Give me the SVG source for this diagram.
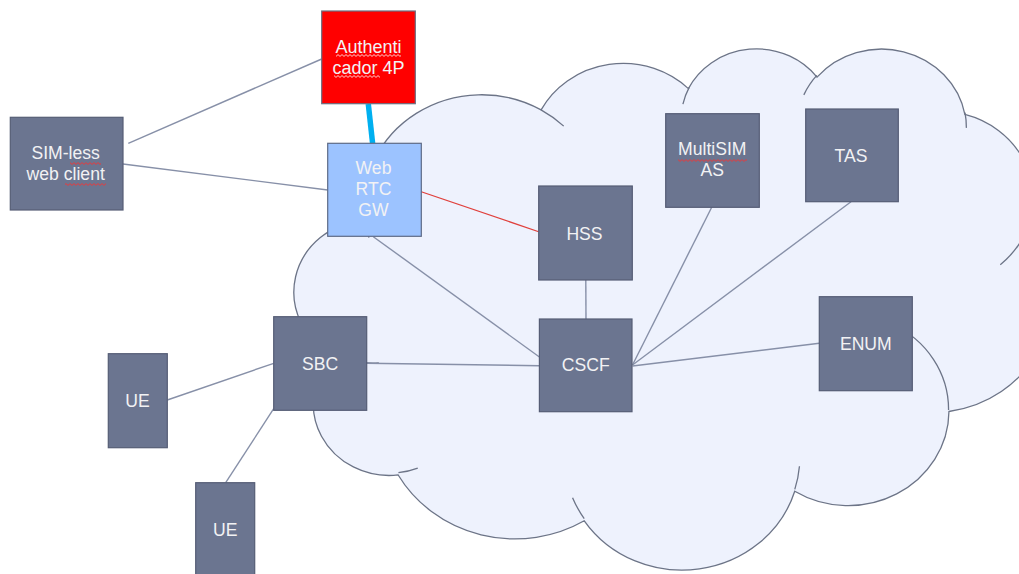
<svg xmlns="http://www.w3.org/2000/svg" width="1019" height="574" viewBox="0 0 1019 574">
  <style>
    .cloud { fill: #EEF2FD; stroke: #6C7487; stroke-width: 1.3; vector-effect: non-scaling-stroke; }
    .crease { fill: none; stroke: #6C7487; stroke-width: 1.3; vector-effect: non-scaling-stroke; }
    .link { stroke: #8790A8; stroke-width: 1.4; fill: none; }
    .node rect { fill: #6B7590; stroke: #555D75; stroke-width: 1.2; }
    .node text { fill: #F2F2F4; font-family: "Liberation Sans", Arial, sans-serif; font-size: 17.6px; text-anchor: middle; }
    .node rect.spell { fill: url(#squiggle); stroke: none; }
    .node rect.spell-light { fill: url(#squiggle-light); stroke: none; }
  </style>
  <defs>
    <pattern id="squiggle" width="4" height="3" patternUnits="userSpaceOnUse">
      <path d="M0 2.4 L2 0.6 L4 2.4" fill="none" stroke="#E8383A" stroke-width="1"/>
    </pattern>
    <pattern id="squiggle-light" width="4" height="3" patternUnits="userSpaceOnUse">
      <path d="M0 2.4 L2 0.6 L4 2.4" fill="none" stroke="#FFC8C8" stroke-width="1"/>
    </pattern>
  </defs>

  <rect width="1019" height="574" fill="#FFFFFF"/>

  <!-- network cloud, drawn in a 43200 x 43200 unit box -->
  <g id="cloud" transform="translate(297 47.2) scale(0.01743 0.01206)">
    <path class="cloud" d="M3900 14370
      A6753 9190 0 0 1 14004 5201
      A5333 7267 0 0 1 22456 3433
      A4365 5945 0 0 1 29834 2483
      A4857 6595 0 0 1 38318 5580
      A5333 7273 0 0 1 41818 15464
      A6775 9220 0 0 1 37404 30206
      A5785 7867 0 0 1 28556 36816
      A6752 9215 0 0 1 16481 39267
      A7720 10543 0 0 1 5805 35470
      A4360 5918 0 0 1 2115 25546
      A4345 5945 0 0 1 3900 14370 Z"/>
    <path class="crease" d="M4693 26177 A4345 5945 0 0 1 2160 25380
      M6928 34899 A4360 5918 0 0 1 5819 35281
      M16478 39090 A6752 9215 0 0 1 15810 37350
      M28827 34751 A6752 9215 0 0 1 28560 36661
      M34129 22954 A5785 7867 0 0 1 37381 30090
      M41798 15354 A5333 7273 0 0 1 40349 18031
      M38324 5426 A4857 6595 0 0 1 38400 6690
      M29078 3952 A4857 6595 0 0 1 29821 2339
      M22141 4720 A4365 5945 0 0 1 22500 3330
      M14000 5192 A6753 9190 0 0 1 15303 6544
      M4127 15789 A6753 9190 0 0 1 3900 14370"/>
  </g>

  <!-- connectors -->
  <g id="connectors">
    <line class="link" x1="128.3" y1="143.3" x2="321.7" y2="59"/>
    <line class="link" x1="123" y1="164" x2="327.7" y2="190"/>
    <line class="link" x1="373.3" y1="236.7" x2="539.4" y2="357"/>
    <line class="link" x1="585.8" y1="280" x2="586" y2="319"/>
    <line class="link" x1="366.7" y1="363.3" x2="539.4" y2="365.7"/>
    <line class="link" x1="711.7" y1="207.3" x2="632.5" y2="365"/>
    <line class="link" x1="851" y1="201.7" x2="632.5" y2="365"/>
    <line class="link" x1="819.3" y1="343.3" x2="632.5" y2="366"/>
    <line class="link" x1="167.3" y1="400" x2="273.7" y2="363.3"/>
    <line class="link" x1="225.7" y1="482.7" x2="273.7" y2="408.7"/>
    <line x1="368.3" y1="104" x2="372.6" y2="143.3" stroke="#00B0F0" stroke-width="5.5"/>
    <line x1="397.7" y1="183.7" x2="538.7" y2="231.7" stroke="#E0403C" stroke-width="1.2"/>
  </g>

  <g id="authenticator" class="node">
    <rect x="321.7" y="11" width="93.6" height="92.7" style="fill:#FF0000;stroke:#6A6E80"/>
    <text x="368.5" y="53.3" style="font-size:18px">Authenti</text>
    <text x="368.5" y="74" style="font-size:18px">cador 4P</text>
    <rect class="spell-light" x="336" y="54" width="65" height="3"/>
    <rect class="spell-light" x="334" y="75" width="46" height="3"/>
  </g>

  <g id="simless-client" class="node">
    <rect x="10.3" y="117.3" width="112.7" height="92.7"/>
    <text x="65.7" y="159.3">SIM-less</text>
    <text x="65.7" y="180">web client</text>
    <rect class="spell" x="70" y="162" width="31" height="3"/>
    <rect class="spell" x="65" y="183" width="41" height="3"/>
  </g>

  <g id="webrtc-gw" class="node">
    <rect x="327.7" y="143.3" width="93.6" height="93" style="fill:#9CC3FF;stroke:#5E6A86"/>
    <text x="373.5" y="174">Web</text>
    <text x="373.5" y="195">RTC</text>
    <text x="373.5" y="216">GW</text>
  </g>

  <g id="hss" class="node">
    <rect x="538.7" y="186" width="93.6" height="94"/>
    <text x="584.5" y="239.5">HSS</text>
  </g>

  <g id="multisim-as" class="node">
    <rect x="665.7" y="113.7" width="93.6" height="93.6"/>
    <text x="712.3" y="155">MultiSIM</text>
    <text x="712.3" y="176">AS</text>
    <rect class="spell" x="678" y="159" width="69" height="3"/>
  </g>

  <g id="tas" class="node">
    <rect x="805.7" y="109" width="92.6" height="92.7"/>
    <text x="851" y="161.7">TAS</text>
  </g>

  <g id="enum" class="node">
    <rect x="819.3" y="296.7" width="93" height="94"/>
    <text x="865.8" y="350">ENUM</text>
  </g>

  <g id="cscf" class="node">
    <rect x="539.4" y="319" width="92.6" height="92.7"/>
    <text x="585.7" y="371">CSCF</text>
  </g>

  <g id="sbc" class="node">
    <rect x="273.7" y="316.7" width="93" height="93.6"/>
    <text x="320" y="370">SBC</text>
  </g>

  <g id="ue-1" class="node">
    <rect x="108.3" y="353.7" width="59" height="94"/>
    <text x="137.5" y="407.3">UE</text>
  </g>

  <g id="ue-2" class="node">
    <rect x="195.7" y="482.7" width="59" height="94"/>
    <text x="225.2" y="535.7">UE</text>
  </g>
</svg>
